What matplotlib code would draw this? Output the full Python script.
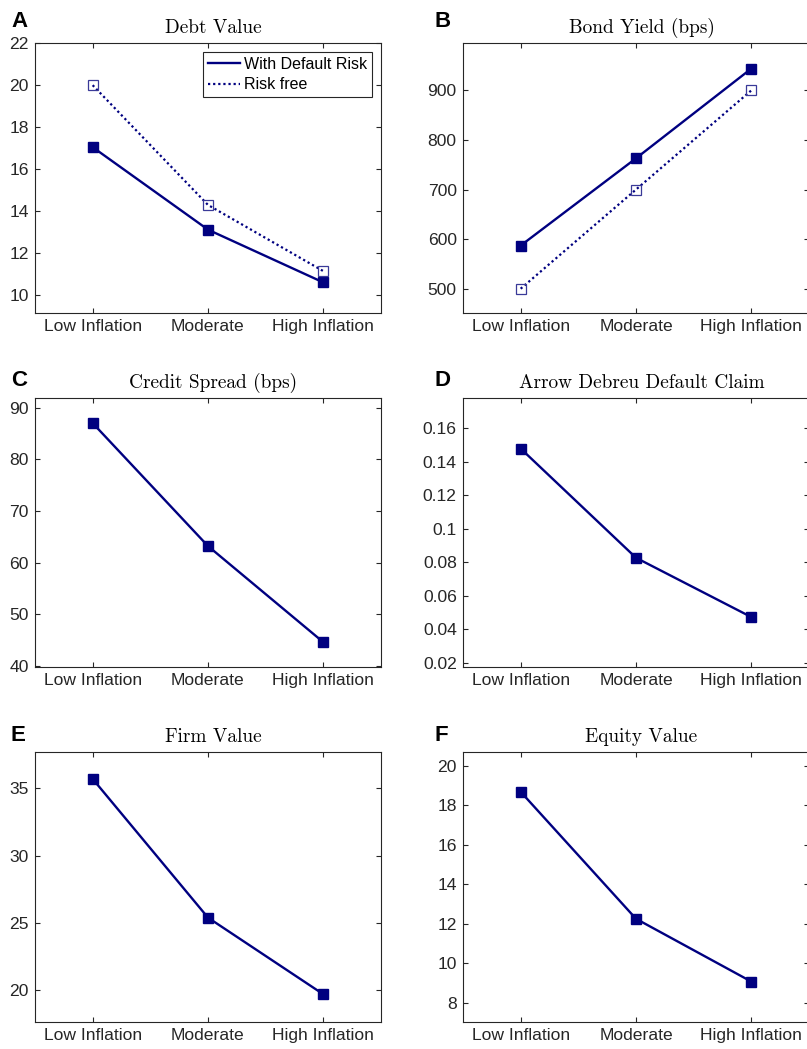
import matplotlib
matplotlib.use("Agg")
import matplotlib.pyplot as plt

categories = ["Low Inflation", "Moderate", "High Inflation"]

debt_default = [17.04, 13.1, 10.58]
debt_riskfree = [20.0, 14.28, 11.12]
yield_default = [587, 763, 944]
yield_riskfree = [500, 700, 900]
spread = [87.0, 63.2, 44.6]
ad_claim = [0.148, 0.0828, 0.0474]
firm_value = [35.7, 25.38, 19.68]
equity_value = [18.68, 12.25, 9.07]

NAVY = "#000080"
GRAY = "#262626"

plt.rcParams["font.family"] = ["Liberation Sans", "DejaVu Sans"]

W, H = 807, 1049
fig = plt.figure(figsize=(W / 100, H / 100), dpi=100)


def px_axes(left, top, right, bottom):
    return fig.add_axes([left / W, 1 - bottom / H, (right - left) / W, (bottom - top) / H])


def style(ax, title, yticks, ylabels, ylim):
    ax.set_xlim(-0.5, 2.5)
    ax.set_ylim(*ylim)
    ax.set_xticks(range(len(categories)))
    ax.set_xticklabels(categories)
    ax.set_yticks(yticks)
    ax.set_yticklabels(ylabels)
    ax.tick_params(direction="in", length=3.5, width=0.8, colors=GRAY,
                   labelsize=12.6, top=True, right=True, pad=4.5)
    for s in ax.spines.values():
        s.set_color(GRAY)
        s.set_linewidth(0.8)
    ax.set_title(title, fontfamily="cmr10", fontsize=13.9, pad=7.2, x=0.516)


def main_line(ax, y):
    ax.plot(range(len(y)), y, "-", color=NAVY, lw=1.7, marker="s", ms=6.8,
            mfc=NAVY, mec=NAVY, label="With Default Risk")


def rf_line(ax, y):
    ax.plot(range(len(y)), y, linestyle=(0, (1, 1.3)), color=NAVY, lw=1.6,
            marker="s", ms=6.8, mfc="none", mec="#3a3a98", mew=0.9, label="Risk free")


cols = [(35, 381), (463, 809)]
rows = [(43.3, 313), (398.3, 667), (752.3, 1021.7)]

# A
ax = px_axes(cols[0][0], rows[0][0], cols[0][1], rows[0][1])
main_line(ax, debt_default)
rf_line(ax, debt_riskfree)
style(ax, "Debt Value", range(10, 23, 2), [str(v) for v in range(10, 23, 2)], (9.12, 22))
leg = ax.legend(loc="upper right", fontsize=11.5, frameon=True, fancybox=False,
                edgecolor=GRAY, framealpha=1, borderaxespad=0.55, handlelength=2.05,
                handletextpad=0.25, borderpad=0.3, labelspacing=0.33)
leg.get_frame().set_linewidth(0.8)
for h in leg.get_lines():
    h.set_marker("")

# B
ax = px_axes(cols[1][0], rows[0][0], cols[1][1], rows[0][1])
main_line(ax, yield_default)
rf_line(ax, yield_riskfree)
style(ax, "Bond Yield (bps)", range(500, 901, 100), [str(v) for v in range(500, 901, 100)], (451, 995))

# C
ax = px_axes(cols[0][0], rows[1][0], cols[0][1], rows[1][1])
main_line(ax, spread)
style(ax, "Credit Spread (bps)", range(40, 91, 10), [str(v) for v in range(40, 91, 10)], (39.8, 91.8))

# D
ax = px_axes(cols[1][0], rows[1][0], cols[1][1], rows[1][1])
main_line(ax, ad_claim)
dt = [0.02, 0.04, 0.06, 0.08, 0.1, 0.12, 0.14, 0.16]
style(ax, "Arrow Debreu Default Claim", dt, ["0.02", "0.04", "0.06", "0.08", "0.1", "0.12", "0.14", "0.16"], (0.0176, 0.178))

# E
ax = px_axes(cols[0][0], rows[2][0], cols[0][1], rows[2][1])
main_line(ax, firm_value)
style(ax, "Firm Value", [20, 25, 30, 35], ["20", "25", "30", "35"], (17.64, 37.68))

# F
ax = px_axes(cols[1][0], rows[2][0], cols[1][1], rows[2][1])
main_line(ax, equity_value)
style(ax, "Equity Value", range(8, 21, 2), [str(v) for v in range(8, 21, 2)], (7.04, 20.68))

letters = [("A", 11, 26.7), ("B", 435, 26.7), ("C", 11, 386),
           ("D", 435, 386), ("E", 11, 740.7), ("F", 435, 740.7)]
for t, x, y in letters:
    fig.text(x / W, 1 - y / H, t, fontsize=16, fontweight="bold", va="baseline", ha="left")

fig.savefig("out.png", dpi=100)
